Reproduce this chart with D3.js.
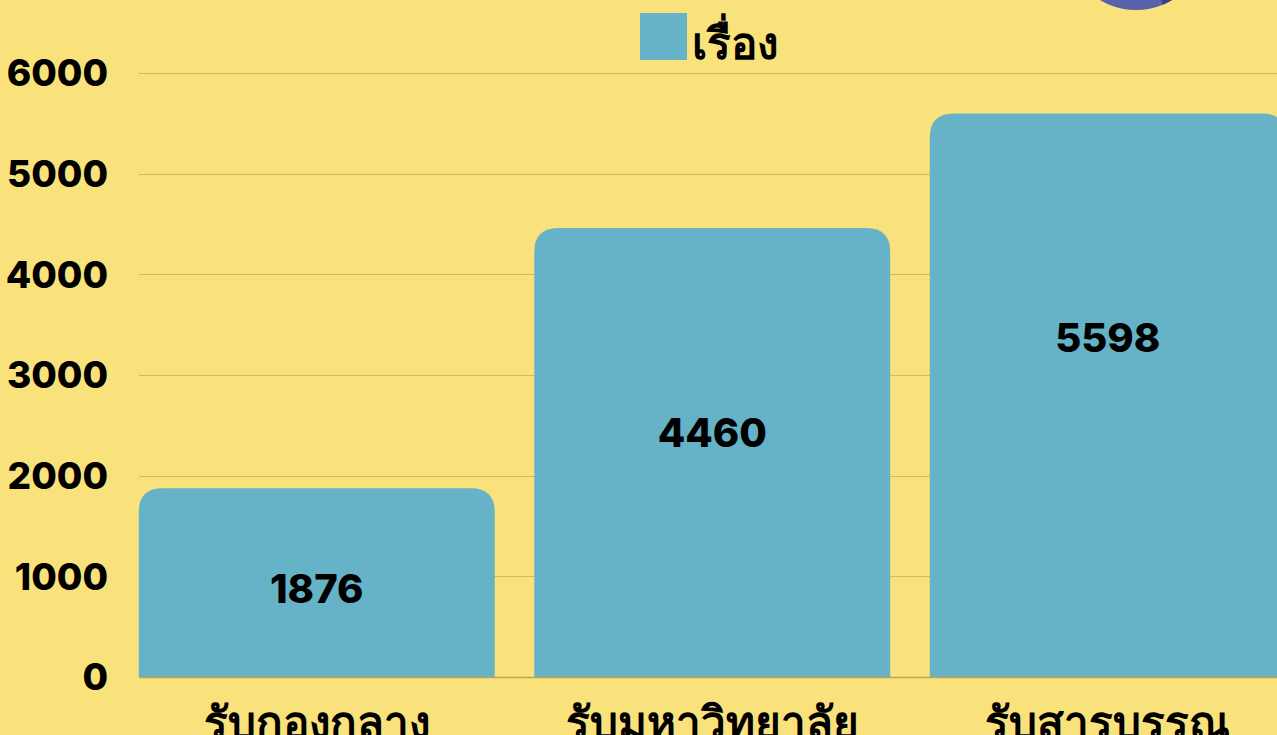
<!DOCTYPE html>
<html>
<head>
<meta charset="utf-8">
<script src="https://cdn.jsdelivr.net/npm/d3@7"></script>
<style>
  html, body { margin: 0; padding: 0; background: #f9e27b; overflow: hidden; }
  svg { display: block; }
  text { font-family: Inter, "DejaVu Sans", sans-serif; font-weight: 800; fill: #000; }
  text.thai { font-family: "DejaVu Sans", sans-serif; font-weight: bold; }
</style>
</head>
<body>
<svg id="chart" width="1277" height="735"></svg>
<script>
  // data
  var categories = ['รับกองกลาง', 'รับมหาวิทยาลัย', 'รับสารบรรณ'];
  var values = [1876, 4460, 5598];
  var labelAt = [880, 2430, 3370]; // where the value label sits, in data units
  var yTicks = [0, 1000, 2000, 3000, 4000, 5000, 6000];
  var seriesName = 'เรื่อง';

  var W = 1277, H = 735;
  var svg = d3.select('#chart');

  var x = d3.scaleBand()
    .domain(categories)
    .range([119, 119 + 3 * 395.5])
    .paddingInner(0.1)
    .paddingOuter(0.05);

  var y = d3.scaleLinear().domain([0, 6000]).range([677, 73]);

  // gridlines
  svg.append('g')
    .selectAll('line')
    .data(yTicks.slice(1))
    .enter()
    .append('line')
    .attr('x1', 139)
    .attr('x2', W)
    .attr('y1', function (d) { return Math.round(y(d)) + 0.5; })
    .attr('y2', function (d) { return Math.round(y(d)) + 0.5; })
    .attr('stroke', '#cdb968')
    .attr('stroke-width', 1);

  // y tick labels
  svg.append('g')
    .selectAll('text')
    .data(yTicks)
    .enter()
    .append('text')
    .attr('x', 108)
    .attr('y', function (d) { return y(d); })
    .attr('dy', '0.36em')
    .attr('text-anchor', 'end')
    .style('font-size', '37px')
    .text(function (d) { return d; });

  // bars with rounded tops
  var r = 24;
  function barPath(d, i) {
    var x0 = x(categories[i]), x1 = x0 + x.bandwidth();
    var yt = y(d), yb = y(0);
    return 'M' + x0 + ',' + yb +
      'L' + x0 + ',' + (yt + r) +
      'Q' + x0 + ',' + yt + ' ' + (x0 + r) + ',' + yt +
      'L' + (x1 - r) + ',' + yt +
      'Q' + x1 + ',' + yt + ' ' + x1 + ',' + (yt + r) +
      'L' + x1 + ',' + yb + 'Z';
  }
  svg.append('g')
    .selectAll('path')
    .data(values)
    .enter()
    .append('path')
    .attr('d', barPath)
    .attr('fill', '#66b2c7');

  // baseline
  svg.append('line')
    .attr('x1', 139).attr('x2', W)
    .attr('y1', y(0) + 0.5).attr('y2', y(0) + 0.5)
    .attr('stroke', '#b8a65c')
    .attr('stroke-width', 1.5);

  // value labels
  svg.append('g')
    .selectAll('text')
    .data(values)
    .enter()
    .append('text')
    .attr('x', function (d, i) { return x(categories[i]) + x.bandwidth() / 2; })
    .attr('y', function (d, i) { return y(labelAt[i]); })
    .attr('dy', '0.36em')
    .attr('text-anchor', 'middle')
    .style('font-size', '40px')
    .text(function (d) { return d; });

  // category labels (cut by the bottom edge, as in the source)
  svg.append('g')
    .selectAll('text')
    .data(categories)
    .enter()
    .append('text')
    .attr('class', 'thai')
    .attr('x', function (d) { return x(d) + x.bandwidth() / 2; })
    .attr('y', 738)
    .attr('text-anchor', 'middle')
    .style('font-size', '44px')
    .text(function (d) { return d; });

  // legend
  var legend = svg.append('g').attr('transform', 'translate(640,13)');
  legend.append('rect')
    .attr('width', 47).attr('height', 47)
    .attr('fill', '#66b2c7');
  legend.append('text')
    .attr('class', 'thai')
    .attr('x', 52).attr('y', 46)
    .style('font-size', '44px')
    .text(seriesName);

  // logo partly off the top edge
  var logo = svg.append('g').attr('transform', 'translate(1136,-60)');
  logo.append('clipPath').attr('id', 'logoClip')
    .append('circle').attr('r', 70);
  logo.append('circle').attr('r', 70).attr('fill', '#5862a8');
  logo.append('path')
    .attr('clip-path', 'url(#logoClip)')
    .attr('d', 'M-5,-80 L90,-80 L90,80 L30,80 Z')
    .attr('fill', '#3b407c');
</script>
</body>
</html>
